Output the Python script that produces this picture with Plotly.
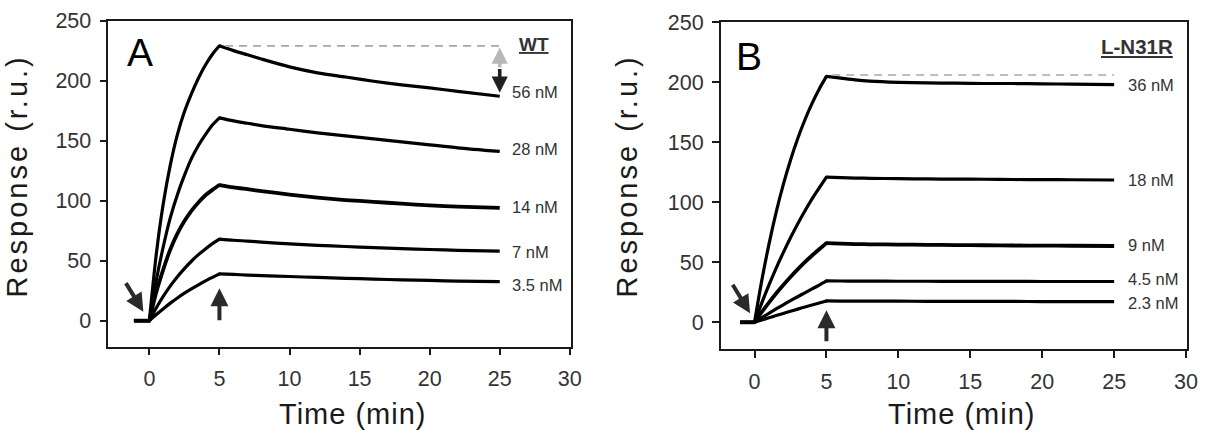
import plotly.graph_objects as go

# ---------------- data ----------------
TIME_A = [-1.1, 0, 0.5, 1, 1.5, 2, 2.5, 3, 3.5, 4, 4.5, 5, 6, 7, 8, 10, 12, 14, 16, 18, 20, 22, 25]
TIME_B = [-1.0, 0, 0.5, 1, 1.5, 2, 2.5, 3, 3.5, 4, 4.5, 5, 6, 7, 8, 10, 12, 14, 16, 18, 20, 22, 25]

WT_LABELS = ["56 nM", "28 nM", "14 nM", "7 nM", "3.5 nM"]
WT_56 = [0, 0, 56, 98, 130, 155, 174, 189, 202, 213, 222, 229, 225, 221.5, 218, 211.5, 206.5, 203, 199.5, 196.5, 194, 191, 187]
WT_28 = [0, 0, 34, 62, 86, 105, 121, 135, 146, 155, 163, 169, 166.5, 164.5, 162.5, 159.5, 156.5, 154, 151.5, 149, 146.5, 144, 141]
WT_14 = [0, 0, 24, 43, 59.5, 72.5, 83, 91.5, 98.5, 104.5, 109, 113, 111, 109.5, 108, 105, 102.5, 100.5, 99, 97.5, 96, 95, 94]
WT_7 = [0, 0, 10.8, 20.4, 29, 36.6, 43.4, 49.5, 55, 59.8, 64.2, 68, 67, 66.3, 65.5, 64, 62.8, 61.8, 60.8, 60, 59.3, 58.6, 58]
WT_3_5 = [0, 0, 5.2, 10, 14.6, 18.9, 22.9, 26.5, 29.9, 33.1, 36.1, 39, 38.5, 38, 37.6, 36.8, 36, 35.3, 34.6, 34, 33.5, 33, 32.5]
WT_LABEL_Y = [190.8, 142.8, 95, 57.5, 29.8]

MUT_LABELS = ["36 nM", "18 nM", "9 nM", "4.5 nM", "2.3 nM"]
MUT_36 = [0, 0, 34.5, 64.8, 91.4, 114.7, 135.1, 153, 168.6, 182.4, 194.5, 205, 203.5, 202, 201, 200, 199.5, 199.3, 199, 199, 198.7, 198.5, 198]
MUT_18 = [0, 0, 16, 31, 45, 58.1, 70.4, 81.9, 92.7, 102.8, 112, 121, 120.5, 120.2, 120, 119.7, 119.5, 119.3, 119.2, 119, 118.9, 118.8, 118.6]
MUT_9 = [0, 0, 8.4, 16.4, 24, 31.1, 37.8, 44.1, 50.1, 55.7, 60.9, 66, 65.5, 65.2, 65, 64.8, 64.6, 64.4, 64.2, 64, 63.9, 63.8, 63.6]
MUT_4_5 = [0, 0, 3.8, 7.5, 11.1, 14.6, 18, 21.3, 24.6, 27.8, 31, 34.5, 34.4, 34.3, 34.3, 34.2, 34.2, 34.1, 34.1, 34.1, 34, 34, 34]
MUT_2_3 = [0, 0, 1.9, 3.8, 5.6, 7.4, 9.2, 11, 12.7, 14.4, 16.1, 17.8, 17.7, 17.7, 17.6, 17.6, 17.5, 17.5, 17.4, 17.4, 17.3, 17.3, 17.2]
MUT_LABEL_Y = [197.8, 119, 64.4, 35.8, 16.3]

WT_MAX = 229
MUT_MAX = 206
WT_END = 190

X_TICKS = [0, 5, 10, 15, 20, 25, 30]
Y_TICKS = [0, 50, 100, 150, 200, 250]

# ---------------- figure ----------------
FONT = "Liberation Sans, Arial, sans-serif"
INK = "#1a1a1a"
TXT = "#333333"
INJ = 1    # index of injection start (t = 0)
END = 11   # index of end of injection (t = 5)

fig = go.Figure()


def add_curve(t, s, w, xa, ya, name):
    segs = [(0, INJ + 1, "linear"), (INJ, END + 1, "spline"), (END, len(t), "spline")]
    for a, b, shape in segs:
        fig.add_trace(go.Scatter(x=t[a:b], y=s[a:b], mode="lines", name=name,
                                 line=dict(color="black", width=w, shape=shape, smoothing=0.8),
                                 xaxis=xa, yaxis=ya, showlegend=False, hoverinfo="skip"))
    fig.add_trace(go.Scatter(x=[t[INJ], t[END]], y=[s[INJ], s[END]], mode="markers",
                             marker=dict(color="black", size=w, line=dict(width=0)),
                             xaxis=xa, yaxis=ya, showlegend=False, hoverinfo="skip"))


wt_series = [WT_56, WT_28, WT_14, WT_7, WT_3_5]
mut_series = [MUT_36, MUT_18, MUT_9, MUT_4_5, MUT_2_3]
widths = [3.2, 3.2, 3.8, 3.2, 3.2]

for s, lab, w in zip(wt_series, WT_LABELS, widths):
    add_curve(TIME_A, s, w, "x", "y", "WT " + lab)
for s, lab, w in zip(mut_series, MUT_LABELS, widths):
    add_curve(TIME_B, s, w, "x2", "y2", "L-N31R " + lab)

# dashed max lines
fig.add_trace(go.Scatter(x=[5.4, 25], y=[WT_MAX, WT_MAX], mode="lines",
                         line=dict(color="#a8a8a8", width=1.8, dash="8px,6px"),
                         xaxis="x", yaxis="y", showlegend=False))
fig.add_trace(go.Scatter(x=[5.4, 25], y=[MUT_MAX, MUT_MAX], mode="lines",
                         line=dict(color="#a8a8a8", width=1.5, dash="8px,6px"),
                         xaxis="x2", yaxis="y2", showlegend=False))

axis_common = dict(showline=True, mirror=True, linecolor=INK, linewidth=1.5,
                   ticks="outside", ticklen=7, tickwidth=1.5, tickcolor=INK,
                   showgrid=False, zeroline=False, automargin=False,
                   tickfont=dict(family=FONT, size=21.5, color=TXT))

fig.update_layout(
    width=1208, height=444, autosize=False,
    margin=dict(l=0, r=0, t=0, b=0, autoexpand=False),
    paper_bgcolor="white", plot_bgcolor="white",
    xaxis=dict(domain=[108.3 / 1208, 570.5 / 1208], range=[-2.93, 30.05],
               tickvals=X_TICKS, anchor="y", ticklabelstandoff=5, **axis_common),
    yaxis=dict(domain=[1 - 346.7 / 444, 1 - 20.5 / 444], range=[-21.7, 250.1],
               tickvals=Y_TICKS, anchor="x", ticklabelstandoff=4, **axis_common),
    xaxis2=dict(domain=[720.7 / 1208, 1186.5 / 1208], range=[-2.35, 30.03],
                tickvals=X_TICKS, anchor="y2", ticklabelstandoff=5, **axis_common),
    yaxis2=dict(domain=[1 - 349.3 / 444, 1 - 22.2 / 444], range=[-22.5, 250.1],
                tickvals=Y_TICKS, anchor="x2", ticklabelstandoff=4, **axis_common),
)

ann = []
# concentration labels
for lab, yv in zip(WT_LABELS, WT_LABEL_Y):
    ann.append(dict(x=25.7, y=yv, xref="x", yref="y", text=lab, showarrow=False,
                    xanchor="left", yanchor="middle", font=dict(family=FONT, size=16.5, color=TXT)))
for lab, yv in zip(MUT_LABELS, MUT_LABEL_Y):
    ann.append(dict(x=25.8, y=yv, xref="x2", yref="y2", text=lab, showarrow=False,
                    xanchor="left", yanchor="middle", font=dict(family=FONT, size=16.5, color=TXT)))

# construct names
ann.append(dict(x=27.45, y=230, xref="x", yref="y", text="<b><u>WT</u></b>", showarrow=False,
                xanchor="center", yanchor="middle", font=dict(family=FONT, size=19, color=TXT)))
ann.append(dict(x=26.6, y=230, xref="x2", yref="y2", text="<b><u>L-N31R</u></b>", showarrow=False,
                xanchor="center", yanchor="middle", font=dict(family=FONT, size=20.5, color=TXT)))

# panel letters
ann.append(dict(x=139.7 / 1208, y=1 - 52 / 444, xref="paper", yref="paper", text="A", showarrow=False,
                xanchor="center", yanchor="middle", font=dict(family=FONT, size=39, color="black")))
ann.append(dict(x=749 / 1208, y=1 - 56 / 444, xref="paper", yref="paper", text="B", showarrow=False,
                xanchor="center", yanchor="middle", font=dict(family=FONT, size=39, color="black")))

# axis titles
for xc in [352 / 1208, 961 / 1208]:
    ann.append(dict(x=xc, y=1 - 414 / 444, xref="paper", yref="paper",
                    text='<span style="letter-spacing:1px">Time (min)</span>', showarrow=False,
                    xanchor="center", yanchor="middle", font=dict(family=FONT, size=29, color=INK)))
for xc in [16 / 1208, 626 / 1208]:
    ann.append(dict(x=xc, y=1 - 300 / 444, xref="paper", yref="paper",
                    text='<span style="letter-spacing:3px">Response (r.u.)</span>', showarrow=False,
                    textangle=-90, xanchor="center", yanchor="bottom",
                    font=dict(family=FONT, size=29, color=INK)))

# arrows
arrow_style = dict(showarrow=True, arrowhead=2, arrowsize=0.9, arrowwidth=4, arrowcolor="#2a2a2a", text="")
ann.append(dict(x=-0.43, y=7.5, ax=-1.74, ay=32.5, xref="x", yref="y", axref="x", ayref="y", **arrow_style))
ann.append(dict(x=5, y=27, ax=5, ay=-1, xref="x", yref="y", axref="x", ayref="y", **arrow_style))
ann.append(dict(x=-0.31, y=7.5, ax=-1.58, ay=32.5, xref="x2", yref="y2", axref="x2", ayref="y2", **arrow_style))
ann.append(dict(x=5, y=10, ax=5, ay=-17, xref="x2", yref="y2", axref="x2", ayref="y2", **arrow_style))

# double arrow (gray up, black down)
ann.append(dict(x=25, y=227.5, ax=25, ay=210, xref="x", yref="y", axref="x", ayref="y",
                showarrow=True, arrowhead=2, arrowsize=0.9, arrowwidth=3.6, arrowcolor="#b8b8b8", text=""))
ann.append(dict(x=25, y=WT_END, ax=25, ay=211, xref="x", yref="y", axref="x", ayref="y",
                showarrow=True, arrowhead=2, arrowsize=0.9, arrowwidth=3.6, arrowcolor="#202020", text=""))

fig.update_layout(annotations=ann)

fig.write_html("out.html")
